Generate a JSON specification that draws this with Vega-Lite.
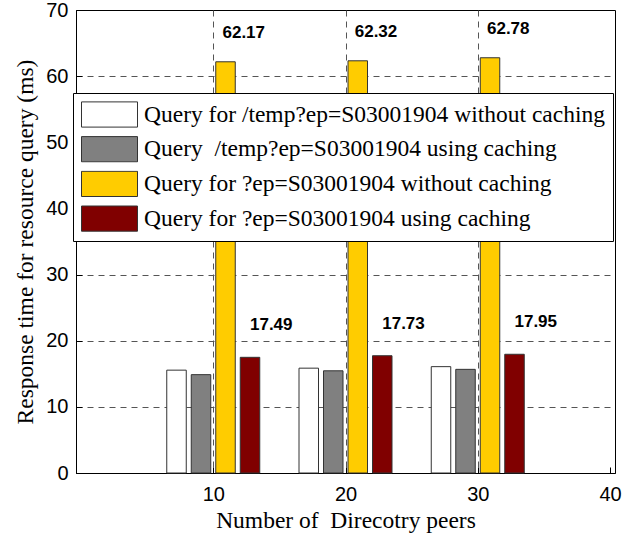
{
  "$schema": "https://vega.github.io/schema/vega-lite/v6.json",
  "width": 539,
  "height": 463,
  "autosize": "none",
  "padding": {"left": 76, "top": 10, "right": 23, "bottom": 60},
  "background": "white",
  "config": {
    "view": {"stroke": "black", "strokeWidth": 1},
    "axis": {
      "domainColor": "black",
      "tickColor": "black",
      "tickSize": -6,
      "labelFont": "Liberation Sans",
      "labelFontSize": 20,
      "labelColor": "black",
      "titleFont": "Liberation Serif",
      "titleFontSize": 23.5,
      "titleFontWeight": "normal",
      "titleColor": "black",
      "grid": true,
      "gridColor": "#555",
      "gridDash": [6, 5],
      "gridWidth": 1,
      "labelFlush": false,
      "labelOverlap": false
    }
  },
  "data": {
    "values": [
      {"peers": 10, "key": "A", "series": "Query for /temp?ep=S03001904 without caching", "value": 15.55},
      {"peers": 10, "key": "B", "series": "Query\u00a0 /temp?ep=S03001904 using caching", "value": 14.87},
      {"peers": 10, "key": "C", "series": "Query for ?ep=S03001904 without caching", "value": 62.17},
      {"peers": 10, "key": "D", "series": "Query for ?ep=S03001904 using caching", "value": 17.49},
      {"peers": 20, "key": "A", "series": "Query for /temp?ep=S03001904 without caching", "value": 15.85},
      {"peers": 20, "key": "B", "series": "Query\u00a0 /temp?ep=S03001904 using caching", "value": 15.45},
      {"peers": 20, "key": "C", "series": "Query for ?ep=S03001904 without caching", "value": 62.32},
      {"peers": 20, "key": "D", "series": "Query for ?ep=S03001904 using caching", "value": 17.73},
      {"peers": 30, "key": "A", "series": "Query for /temp?ep=S03001904 without caching", "value": 16.08},
      {"peers": 30, "key": "B", "series": "Query\u00a0 /temp?ep=S03001904 using caching", "value": 15.67},
      {"peers": 30, "key": "C", "series": "Query for ?ep=S03001904 without caching", "value": 62.78},
      {"peers": 30, "key": "D", "series": "Query for ?ep=S03001904 using caching", "value": 17.95}
    ]
  },
  "encoding": {
    "x": {
      "field": "peers",
      "type": "quantitative",
      "scale": {"domain": [0, 40], "nice": false, "zero": false},
      "axis": {
        "values": [10, 20, 30, 40],
        "title": "Number of\u00a0 Direcotry peers",
        "labelPadding": 17,
        "titlePadding": 4,
        "gridOpacity": {"condition": {"test": "datum.value === 40", "value": 0}, "value": 1}
      }
    },
    "y": {
      "field": "value",
      "type": "quantitative",
      "scale": {"domain": [0, 70], "nice": false},
      "axis": {
        "values": [0, 10, 20, 30, 40, 50, 60, 70],
        "title": "Response time for resource query (ms)",
        "labelPadding": 14,
        "titlePadding": 8,
        "gridOpacity": {"condition": {"test": "datum.value === 70 || datum.value === 0", "value": 0}, "value": 1}
      }
    }
  },
  "layer": [
    {
      "transform": [{"filter": "datum.key === 'A'"}],
      "mark": {"type": "bar", "width": 19.5, "xOffset": -36.75, "stroke": "#333", "strokeWidth": 1},
      "encoding": {
        "fill": {
          "field": "series",
          "type": "nominal",
          "scale": {
            "domain": ["Query for /temp?ep=S03001904 without caching", "Query\u00a0 /temp?ep=S03001904 using caching", "Query for ?ep=S03001904 without caching", "Query for ?ep=S03001904 using caching"],
            "range": ["#ffffff", "#808080", "#ffcc00", "#800000"]
          },
          "legend": {
            "orient": "none",
            "legendX": -3,
            "legendY": 83,
            "title": null,
            "symbolType": "M-1,-0.45H1V0.45H-1Z",
            "symbolSize": 3136,
            "symbolOpacity": 1,
            "symbolStrokeColor": "#333",
            "symbolStrokeWidth": 1,
            "clipHeight": 27,
            "labelFont": "Liberation Serif",
            "labelFontSize": 23.5,
            "labelColor": "black",
            "labelLimit": 700,
            "labelOffset": 6,
            "rowPadding": 7.7,
            "padding": 8,
            "strokeColor": "black",
            "fillColor": "white",
            "cornerRadius": 0
          }
        }
      }
    },
    {
      "transform": [{"filter": "datum.key === 'B'"}],
      "mark": {"type": "bar", "width": 19.5, "xOffset": -12.25, "stroke": "#333", "strokeWidth": 1},
      "encoding": {"fill": {"field": "series", "type": "nominal"}}
    },
    {
      "transform": [{"filter": "datum.key === 'C'"}],
      "mark": {"type": "bar", "width": 19.5, "xOffset": 12.25, "stroke": "#333", "strokeWidth": 1},
      "encoding": {"fill": {"field": "series", "type": "nominal"}}
    },
    {
      "transform": [{"filter": "datum.key === 'D'"}],
      "mark": {"type": "bar", "width": 19.5, "xOffset": 36.75, "stroke": "#333", "strokeWidth": 1},
      "encoding": {"fill": {"field": "series", "type": "nominal"}}
    },
    {
      "transform": [{"filter": "datum.key === 'C'"}],
      "mark": {"type": "text", "dx": 30.5, "dy": -23.5, "font": "Liberation Sans", "fontWeight": "bold", "fontSize": 17, "baseline": "alphabetic", "align": "center", "color": "black"},
      "encoding": {"text": {"field": "value", "type": "quantitative", "format": ".2f"}}
    },
    {
      "transform": [{"filter": "datum.key === 'D'"}],
      "mark": {"type": "text", "dx": 58, "dy": -27, "font": "Liberation Sans", "fontWeight": "bold", "fontSize": 17, "baseline": "alphabetic", "align": "center", "color": "black"},
      "encoding": {"text": {"field": "value", "type": "quantitative", "format": ".2f"}}
    }
  ]
}
